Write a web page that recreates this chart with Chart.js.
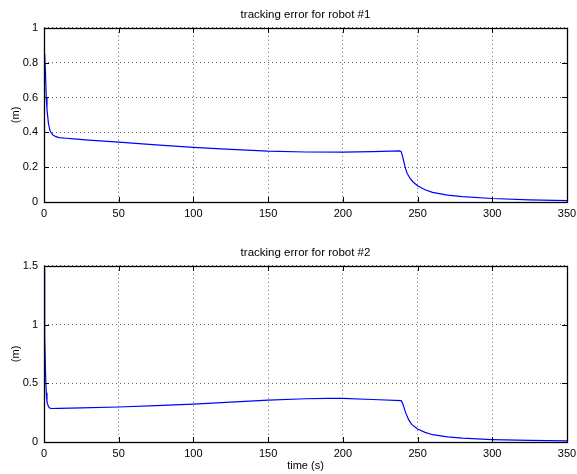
<!DOCTYPE html>
<html lang="en">
<head>
  <meta charset="UTF-8">
  <title>tracking error</title>
  <style>
    body { margin: 0; background: #fff; }
    #top_chart { position: absolute; left: 0; top: 0; }
    #bottom_chart { position: absolute; left: 0; top: 236px; }
  </style>
</head>
<body>
  <canvas id="top_chart" width="577" height="236"></canvas>
  <canvas id="bottom_chart" width="577" height="238"></canvas>

<script src="https://cdn.jsdelivr.net/npm/chart.js"></script>
<script>
  // robot #1
  const time_1 = [0, 0.5, 1, 1.5, 2, 3, 4, 5, 6, 8, 10, 15, 20, 30, 50, 75, 100, 125, 150, 175, 200, 220, 238, 239, 240, 241, 242, 243, 245, 247, 250, 255, 260, 270, 280, 300, 325, 350];
  const error_1 = [0.85, 0.84, 0.74, 0.6, 0.53, 0.45, 0.41, 0.395, 0.385, 0.375, 0.37, 0.366, 0.362, 0.355, 0.344, 0.328, 0.314, 0.302, 0.292, 0.287, 0.286, 0.289, 0.293, 0.29, 0.262, 0.225, 0.19, 0.165, 0.135, 0.115, 0.093, 0.07, 0.055, 0.04, 0.031, 0.02, 0.012, 0.008];

  // robot #2
  const time_2 = [0, 0.3, 0.6, 1, 1.5, 2, 3, 4, 5, 10, 25, 50, 75, 100, 125, 150, 175, 190, 200, 220, 239, 240, 241, 242, 244, 246, 250, 255, 260, 270, 280, 300, 325, 350];
  const error_2 = [1.48, 1.2, 0.9, 0.6, 0.42, 0.34, 0.3, 0.288, 0.285, 0.286, 0.29, 0.298, 0.31, 0.323, 0.34, 0.357, 0.368, 0.372, 0.371, 0.362, 0.352, 0.33, 0.29, 0.25, 0.19, 0.15, 0.11, 0.082, 0.062, 0.043, 0.033, 0.021, 0.013, 0.009];

  const x_ticks = [0, 50, 100, 150, 200, 250, 300, 350];
  const y_ticks_1 = [0, 0.2, 0.4, 0.6, 0.8, 1];
  const y_ticks_2 = [0, 0.5, 1, 1.5];

  const FONT = '"Liberation Sans", Arial, Helvetica, sans-serif';

  // matlab style box with ticks pointing inwards
  const boxPlugin = {
    id: 'box',
    afterDraw(chart) {
      const ctx = chart.ctx;
      const a = chart.chartArea;
      const xs = chart.scales.x;
      const ys = chart.scales.y;
      const len = 5;
      ctx.save();
      ctx.strokeStyle = '#000';
      ctx.lineWidth = 1;
      ctx.beginPath();
      xs.ticks.forEach(function(t) {
        var px = Math.round(xs.getPixelForValue(t.value)) + 0.5;
        ctx.moveTo(px, a.bottom); ctx.lineTo(px, a.bottom - len);
        ctx.moveTo(px, a.top); ctx.lineTo(px, a.top + len);
      });
      ys.ticks.forEach(function(t) {
        var py = Math.round(ys.getPixelForValue(t.value)) + 0.5;
        ctx.moveTo(a.left, py); ctx.lineTo(a.left + len, py);
        ctx.moveTo(a.right, py); ctx.lineTo(a.right - len, py);
      });
      ctx.stroke();
      ctx.lineWidth = 1.3;
      ctx.strokeRect(Math.round(a.left) + 0.5, Math.round(a.top) + 0.5, Math.round(a.right - a.left), Math.round(a.bottom - a.top));
      ctx.restore();
    }
  };

  function makePoints(xs, ys) {
    var pts = [];
    for (var i = 0; i < xs.length; i++) {
      pts.push({x: xs[i], y: ys[i]});
    }
    return pts;
  }

  function loadChart(canvas, title, xs, ys, yTicks, yMax, titleTop, xHeight, showXTitle) {
    new Chart(canvas, {
      type: 'line',
      data: {
        datasets: [{
          data: makePoints(xs, ys),
          borderColor: '#0000ff',
          borderWidth: 1.2,
          pointRadius: 0,
          tension: 0,
          fill: false
        }]
      },
      options: {
        responsive: false,
        animation: false,
        events: [],
        layout: { padding: { left: 0, right: 10, top: 0, bottom: 0 } },
        plugins: {
          legend: { display: false },
          tooltip: { enabled: false },
          title: {
            display: true,
            text: title,
            fullSize: false,
            color: '#000',
            font: { family: FONT, size: 11.5, weight: 'normal' },
            padding: { top: titleTop, bottom: 6 }
          }
        },
        scales: {
          x: {
            type: 'linear',
            min: 0,
            max: 350,
            afterBuildTicks: function(scale) { scale.ticks = x_ticks.map(function(v) { return {value: v}; }); },
            afterFit: function(scale) { scale.height = xHeight; scale.paddingLeft = 0; scale.paddingRight = 0; },
            border: { display: false, dash: [1, 3] },
            grid: { color: '#666', drawTicks: false, lineWidth: 1 },
            ticks: {
              color: '#000', padding: 5, maxRotation: 0,
              font: { family: FONT, size: 11 },
              callback: function(v) { return String(v); }
            },
            title: {
              display: showXTitle,
              text: 'time (s)',
              color: '#000',
              font: { family: FONT, size: 11 },
              padding: { top: 1, bottom: 1 }
            }
          },
          y: {
            min: 0,
            max: yMax,
            afterBuildTicks: function(scale) { scale.ticks = yTicks.map(function(v) { return {value: v}; }); },
            afterFit: function(scale) { scale.width = 44; },
            border: { display: false, dash: [1, 3] },
            grid: { color: '#666', drawTicks: false, lineWidth: 1 },
            ticks: {
              color: '#000', padding: 6,
              font: { family: FONT, size: 11 },
              callback: function(v) { return String(v); }
            },
            title: {
              display: true,
              text: '(m)',
              color: '#000',
              font: { family: FONT, size: 11 },
              padding: { top: 9, bottom: 0 }
            }
          }
        }
      },
      plugins: [boxPlugin]
    });
  }

  loadChart(document.getElementById('top_chart'), 'tracking error for robot #1', time_1, error_1, y_ticks_1, 1, 8, 34, false);
  loadChart(document.getElementById('bottom_chart'), 'tracking error for robot #2', time_2, error_2, y_ticks_2, 1.5, 10, 32, true);
</script>
</body>
</html>
